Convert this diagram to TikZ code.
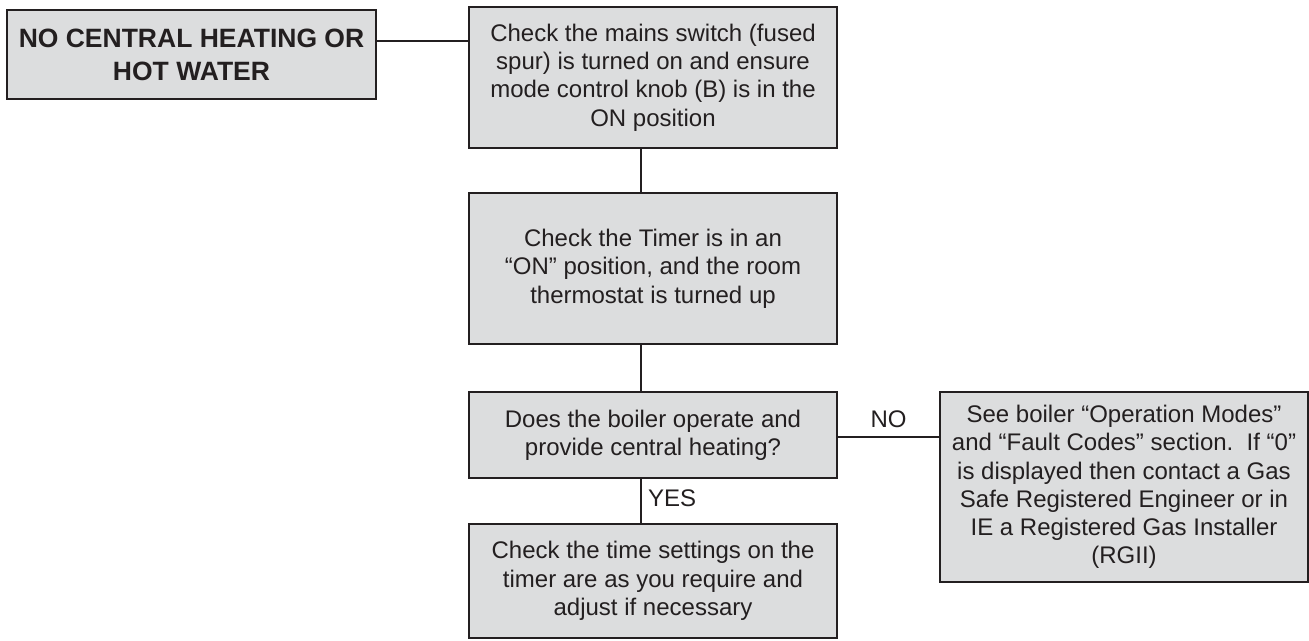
\documentclass[tikz,border=0pt]{standalone}
\usepackage{fontspec}
\setmainfont{Liberation Sans}
\usetikzlibrary{positioning}
\definecolor{boxgray}{HTML}{DCDDDE}
\definecolor{ink}{HTML}{231F20}

\begin{document}
\begin{tikzpicture}[x=1pt,y=-1pt,
  card/.style={draw=ink,line width=2.6pt,fill=boxgray,text=ink,align=center,
    minimum width=368pt,inner sep=0pt,font=\fontsize{24}{28.3}\selectfont},
  link/.style={draw=ink,line width=2.2pt},
  tag/.style={text=ink,inner sep=0pt,font=\fontsize{24}{28.3}\selectfont}]
\useasboundingbox (0,0) rectangle (1309,640);
\node[card,minimum width=369pt,minimum height=89pt,font=\fontsize{26.5}{33}\selectfont\bfseries]
  (title) at (191.5,54.5) {NO CENTRAL HEATING OR\\HOT WATER};
\node[card,minimum height=141pt] (mains) at (653,77.5)
  {Check the mains switch (fused\\spur) is turned on and ensure\\mode control knob (B) is in the\\ON position};
\node[card,minimum height=151pt] (timer) at (653,268.5)
  {Check the Timer is in an\\“ON” position, and the room\\thermostat is turned up};
\node[card,minimum height=86pt] (boiler) at (653,435)
  {Does the boiler operate and\\provide central heating?};
\node[card,minimum height=114pt] (times) at (653,581)
  {Check the time settings on the\\timer are as you require and\\adjust if necessary};
\node[card,minimum height=190pt] (fault) at (1124,487)
  {See boiler “Operation Modes”\\and “Fault Codes” section.\ \ If “0”\\is displayed then contact a Gas\\Safe Registered Engineer or in\\IE a Registered Gas Installer\\(RGII)};
% connectors
\draw[link] ([yshift=13.5pt]title.east) coordinate (t) -- (t -| mains.west);
\foreach \a/\b in {mains/timer,timer/boiler}
  \draw[link] ([xshift=-12pt]\a.south) -- ([xshift=-12pt]\b.north);
\draw[link] ([xshift=-12pt]boiler.south) -- ([xshift=-12pt]times.north)
  node[tag,midway,right=6pt,yshift=3pt] (yes) {YES};
\draw[link] ([yshift=-2pt]boiler.east) coordinate (n) -- (n -| fault.west)
  node[tag,midway,above=8pt] (no) {NO};
\end{tikzpicture}
\end{document}
